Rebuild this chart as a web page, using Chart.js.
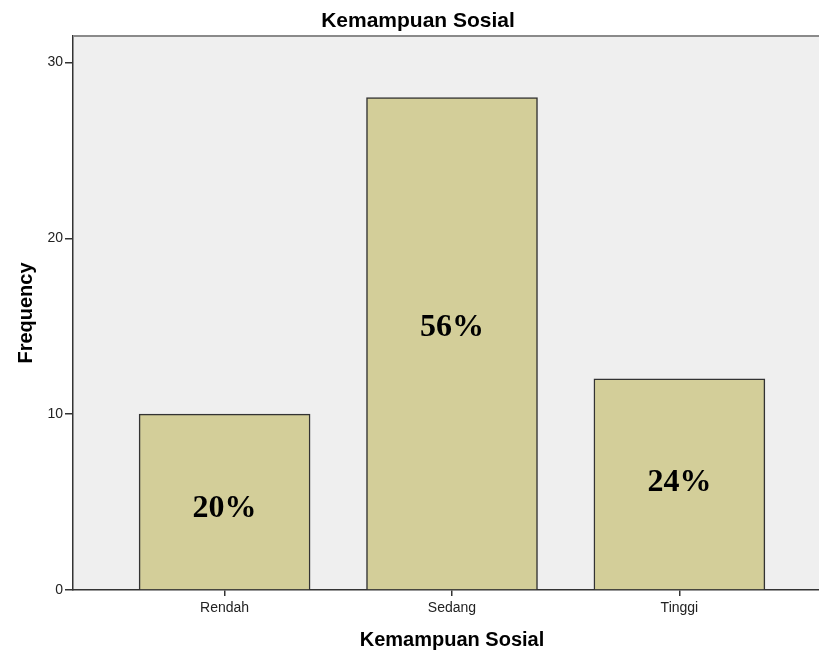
<!DOCTYPE html>
<html lang="en">
<head>
<meta charset="UTF-8">
<title>Kemampuan Sosial</title>
<script src="https://cdn.jsdelivr.net/npm/chart.js@4/dist/chart.umd.min.js"></script>
<style>
  body { margin: 0; overflow: hidden; background: #fff; }
  #wrap { width: 831px; height: 652px; }
</style>
</head>
<body>
<div id="wrap"><canvas id="graphCanvas"></canvas></div>
<script>
    // data
    var kategori = ["Rendah", "Sedang", "Tinggi"];
    var frekuensi = [10, 28, 12];
    var persen = ["20%", "56%", "24%"];
    var posisiLabel = [4.6, 14.9, 6.1]; // where the % text sits, in frequency units
    var yTicks = [0, 10, 20, 30];

    var axisFont = "'Liberation Sans', Arial, sans-serif";

    // background + top frame + title + percentage labels
    var spssLook = {
        id: 'spssLook',
        beforeDraw: function (chart) {
            var ctx = chart.ctx, a = chart.chartArea;
            ctx.save();
            ctx.fillStyle = '#efefef';
            ctx.fillRect(a.left, a.top, a.right - a.left, a.bottom - a.top);
            ctx.restore();
        },
        afterDraw: function (chart) {
            var ctx = chart.ctx, a = chart.chartArea;
            var xs = chart.scales.x, ys = chart.scales.y;
            ctx.save();
            ctx.strokeStyle = '#8a8a8a';
            ctx.lineWidth = 2;
            ctx.beginPath();
            ctx.moveTo(a.left, a.top);
            ctx.lineTo(a.right, a.top);
            ctx.stroke();

            ctx.fillStyle = '#000';
            ctx.textAlign = 'center';
            ctx.textBaseline = 'middle';
            ctx.font = "bold 21px " + axisFont;
            ctx.fillText("Kemampuan Sosial", 418, 21);

            ctx.font = "bold 32px 'Liberation Serif', 'Times New Roman', serif";
            for (var i = 0; i < persen.length; i++) {
                ctx.fillText(persen[i], xs.getPixelForValue(i), ys.getPixelForValue(posisiLabel[i]));
            }
            ctx.restore();
        }
    };

    var graphTarget = document.getElementById("graphCanvas");
    var myBarChart = new Chart(graphTarget, {
        type: 'bar',
        data: {
            datasets: [{
                label: 'Frequency',
                data: frekuensi.map(function (v, i) { return {x: i, y: v}; }),
                backgroundColor: '#d3ce99',
                borderColor: '#333333',
                borderWidth: 1.5,
                barThickness: 171
            }]
        },
        options: {
            responsive: true,
            maintainAspectRatio: false,
            animation: false,
            layout: { padding: { top: 36, left: 0, right: 0, bottom: 0 } },
            plugins: { legend: { display: false }, tooltip: { enabled: false } },
            scales: {
                x: {
                    type: 'linear',
                    offset: false,
                    min: -2 / 3,
                    max: 8 / 3,
                    afterBuildTicks: function (s) { s.ticks = kategori.map(function (c, i) { return {value: i}; }); },
                    afterFit: function (s) { s.height = 62; },
                    ticks: {
                        callback: function (v) { return kategori[v]; },
                        color: '#222',
                        font: { family: axisFont, size: 14 },
                        padding: 4,
                        maxRotation: 0
                    },
                    grid: { offset: false, drawOnChartArea: false, drawTicks: true, tickLength: 6, color: '#333', lineWidth: 1.5 },
                    border: { display: true, color: '#333', width: 1.5 },
                    title: {
                        display: true,
                        text: 'Kemampuan Sosial',
                        color: '#000',
                        font: { family: axisFont, size: 20, weight: 'bold' },
                        padding: { top: 0, bottom: 0 }
                    }
                },
                y: {
                    min: 0,
                    max: 31.5,
                    afterBuildTicks: function (s) { s.ticks = yTicks.map(function (v) { return {value: v}; }); },
                    afterFit: function (s) { s.width = 73; },
                    ticks: {
                        color: '#222',
                        font: { family: axisFont, size: 14 },
                        padding: 2
                    },
                    grid: { drawOnChartArea: false, drawTicks: true, tickLength: 8, color: '#333', lineWidth: 1.5 },
                    border: { display: true, color: '#333', width: 1.5 },
                    title: {
                        display: true,
                        text: 'Frequency',
                        color: '#000',
                        font: { family: axisFont, size: 20, weight: 'bold' },
                        padding: { top: 14, bottom: 0 }
                    }
                }
            }
        },
        plugins: [spssLook]
    });
</script>
</body>
</html>
